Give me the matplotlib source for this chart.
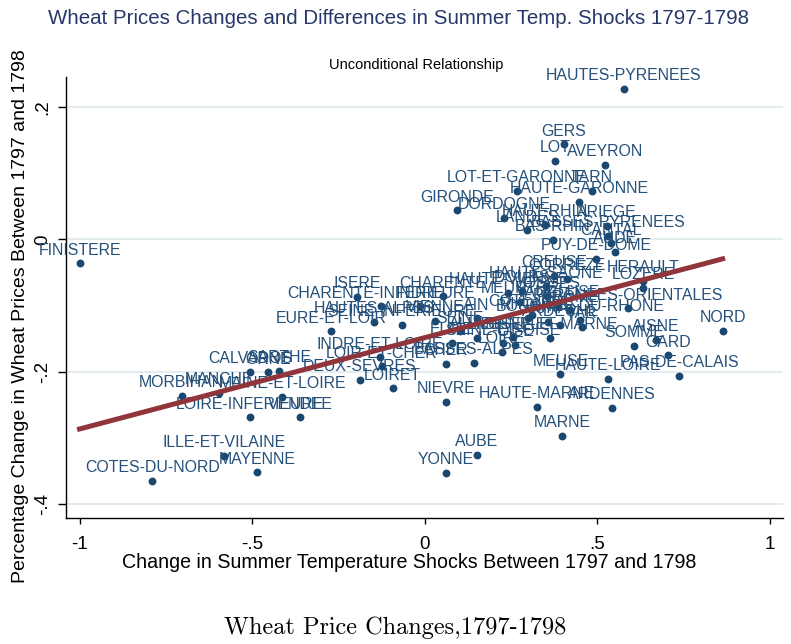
import matplotlib
matplotlib.use("Agg")
import matplotlib.pyplot as plt
import numpy as np

# departments, change in summer temp shock (x) and wheat price change (y)
departments = [
    "HAUTES-PYRENEES", "GERS", "LOT", "AVEYRON", "LOT-ET-GARONNE", "TARN",
    "HAUTE-GARONNE", "GIRONDE", "DORDOGNE", "LANDES", "HAUT-RHIN", "BAS-RHIN",
    "ARIEGE", "BASSES-PYRENEES", "CANTAL", "AUDE", "PUY-DE-DOME", "FINISTERE",
    "CREUSE", "CORREZE", "HERAULT", "LOZERE", "HAUTE-SAONE", "DOUBS",
    "HAUTE-VIENNE", "VOSGES", "MEURTHE", "PYRENEES-ORIENTALES",
    "BOUCHES-DU-RHONE", "DROME", "VAUCLUSE", "ARDECHE", "VAR", "JURA",
    "COTE-D'OR", "RHONE", "SEINE-ET-MARNE", "OISE", "MOSELLE", "SEINE-ET-OISE",
    "LOIRE", "ALLIER", "AIN", "VIENNE", "CHARENTE", "CHARENTE-INFERIEURE",
    "ISERE", "HAUTES-ALPES", "EURE-ET-LOIR", "SEINE-INFERIEURE", "INDRE",
    "SEINE", "EURE", "INDRE-ET-LOIRE", "LOIR-ET-CHER", "DEUX-SEVRES", "LOIRET",
    "CHER", "BASSES-ALPES", "NIEVRE", "YONNE", "AUBE", "MARNE", "HAUTE-MARNE",
    "ARDENNES", "MEUSE", "HAUTE-LOIRE", "PAS-DE-CALAIS", "SOMME", "AISNE",
    "GARD", "NORD", "CALVADOS", "ORNE", "SARTHE", "MORBIHAN", "MANCHE",
    "MAINE-ET-LOIRE", "LOIRE-INFERIEURE", "VENDEE", "ILLE-ET-VILAINE",
    "MAYENNE", "COTES-DU-NORD",
]
temp_change = [
    0.578, 0.404, 0.378, 0.522, 0.268, 0.485,
    0.448, 0.094, 0.230, 0.298, 0.349, 0.372,
    0.528, 0.533, 0.540, 0.552, 0.497, -1.000,
    0.375, 0.412, 0.633, 0.634, 0.352, 0.282,
    0.242, 0.356, 0.277, 0.591,
    0.451, 0.422, 0.387, 0.393, 0.456, 0.359,
    0.311, 0.301, 0.364, 0.262, 0.257, 0.228,
    0.224, 0.151, 0.151, 0.030, 0.053, -0.126,
    -0.195, -0.146, -0.272, -0.066, -0.013,
    0.103, 0.079, -0.129, -0.124, -0.187, -0.092,
    0.061, 0.143, 0.062, 0.062, 0.152, 0.399, 0.325,
    0.544, 0.394, 0.531, 0.739, 0.607, 0.670,
    0.705, 0.864, -0.506, -0.454, -0.421, -0.704, -0.596,
    -0.412, -0.506, -0.361, -0.581,
    -0.485, -0.789,
]
price_change = [
    0.228, 0.144, 0.119, 0.113, 0.073, 0.074,
    0.057, 0.044, 0.033, 0.014, 0.022, -0.001,
    0.021, 0.006, -0.006, -0.019, -0.029, -0.036,
    -0.055, -0.059, -0.063, -0.073, -0.071, -0.078,
    -0.081, -0.086, -0.094, -0.104,
    -0.121, -0.107, -0.100, -0.129, -0.132, -0.124,
    -0.114, -0.118, -0.149, -0.159, -0.148, -0.157,
    -0.170, -0.149, -0.119, -0.123, -0.086, -0.101,
    -0.087, -0.124, -0.139, -0.129, -0.101,
    -0.139, -0.156, -0.178, -0.192, -0.212, -0.225,
    -0.188, -0.186, -0.245, -0.353, -0.326, -0.297, -0.253,
    -0.255, -0.204, -0.211, -0.206, -0.161, -0.152,
    -0.175, -0.138, -0.200, -0.201, -0.199, -0.236, -0.232,
    -0.238, -0.269, -0.269, -0.327,
    -0.352, -0.365,
]

# linear fit
fit_intercept = -0.1485
fit_slope = 0.138

x_ticks = [-1, -0.5, 0, 0.5, 1]
x_tick_labels = ["-1", "-.5", "0", ".5", "1"]
y_ticks = [-0.4, -0.2, 0.0, 0.2]
y_tick_labels = ["-.4", "-.2", "0", ".2"]

DOT = "#1a476f"
LAB = "#24507a"
FIT = "#90353b"
SANS = "Liberation Sans"

fig = plt.figure(figsize=(7.91, 6.44), dpi=100)
ax = fig.add_axes([0.0831, 0.1952, 0.9072, 0.6853])

ax.scatter(temp_change, price_change, s=32, color=DOT, linewidths=0, zorder=3)
for name, x, y in zip(departments, temp_change, price_change):
    ax.annotate(name, (x, y), xytext=(0, 9.5), textcoords="offset points",
                ha="center", va="center", fontsize=11.4, color=LAB,
                family=SANS, zorder=3, annotation_clip=False)

xs = np.array([min(temp_change), max(temp_change)])
ax.plot(xs, fit_intercept + fit_slope * xs, color=FIT, lw=3.6, zorder=5)

ax.set_xlim(-1.04, 1.04)
ax.set_ylim(-0.4215, 0.2457)
ax.set_xticks(x_ticks)
ax.set_xticklabels(x_tick_labels, family=SANS, fontsize=13.5)
ax.set_yticks(y_ticks)
ax.set_yticklabels(y_tick_labels, family=SANS, fontsize=13.5,
                   rotation=90, va="center")
ax.tick_params(axis="x", length=4.5, width=1, pad=8)
ax.tick_params(axis="y", length=5.5, width=1, pad=5)
ax.grid(axis="y", color="#e4ecf0", lw=1.5)
ax.set_axisbelow(True)
for s in ("top", "right"):
    ax.spines[s].set_visible(False)
for s in ("left", "bottom"):
    ax.spines[s].set_linewidth(1.0)

fig.text(0.5044, 0.972, "Wheat Prices Changes and Differences in Summer Temp. Shocks 1797-1798",
         ha="center", va="center", fontsize=14.8, color="#26386a", family=SANS)
fig.text(0.526, 0.899, "Unconditional Relationship", ha="center", va="center",
         fontsize=10.5, color="black", family=SANS)
fig.text(0.5177, 0.1258, "Change in Summer Temperature Shocks Between 1797 and 1798",
         ha="center", va="center", fontsize=14.1, family=SANS)
fig.text(0.0253, 0.509, "Percentage Change in Wheat Prices Between 1797 and 1798",
         ha="center", va="center", rotation=90, fontsize=14, family=SANS)
fig.text(0.4994, 0.0248, "Wheat Price Changes,1797-1798", ha="center", va="center",
         fontsize=17.5, family="cmr10")

fig.savefig("out.png", dpi=100, facecolor="white")
